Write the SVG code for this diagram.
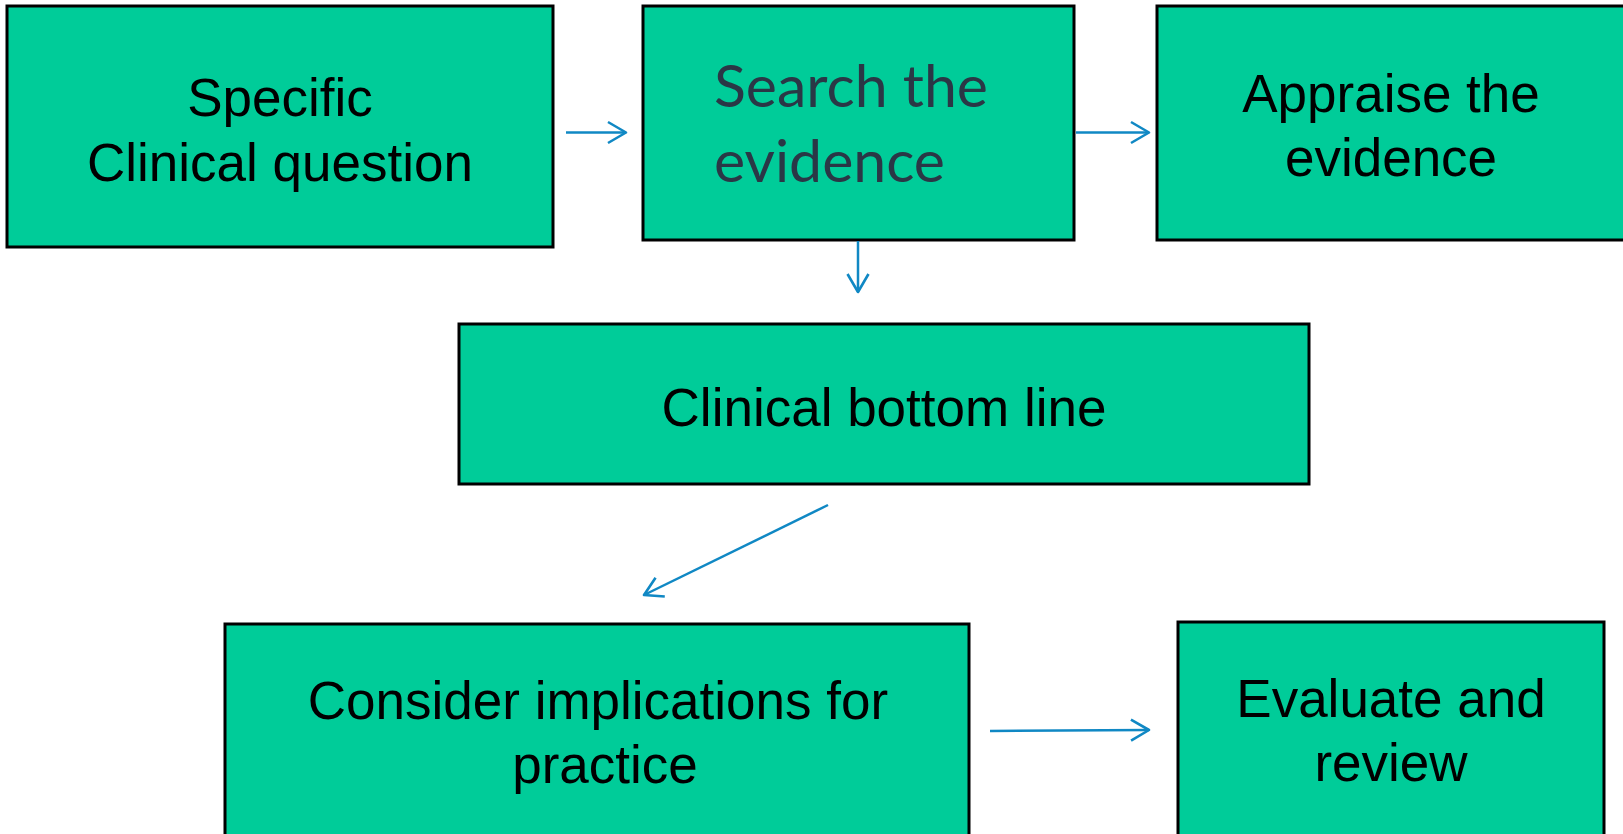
<svg xmlns="http://www.w3.org/2000/svg" width="1623" height="834" viewBox="0 0 1623 834">
  <style>
    .box { fill: #00cc99; stroke: #000000; stroke-width: 3; }
    .lbl { font-family: "Liberation Sans", Arial, sans-serif; font-size: 53px; fill: #000000; text-anchor: middle; }
    .lbl-alt { font-family: Lato, "Open Sans", sans-serif; font-size: 59px; fill: #2a3746; }
    .conn { fill: none; stroke: #1088c4; stroke-width: 2.5; marker-end: url(#chev); }
  </style>
  <defs>
    <!-- open chevron arrowhead, tip at the end of the line -->
    <marker id="chev" viewBox="-2 -2 24 26" refX="19" refY="11" markerWidth="24" markerHeight="26" markerUnits="userSpaceOnUse" orient="auto">
      <path d="M 1 0.5 L 19 11 L 1 21.5" fill="none" stroke="#1088c4" stroke-width="2.6" stroke-linejoin="round"/>
    </marker>
  </defs>

  <rect width="1623" height="834" fill="#ffffff"/>

  <g id="node-question">
    <rect class="box" x="7" y="6" width="546" height="241"/>
    <text class="lbl" x="280" y="116">Specific</text>
    <text class="lbl" x="280" y="181">Clinical question</text>
  </g>

  <g id="node-search">
    <rect class="box" x="643" y="6" width="431" height="234"/>
    <text class="lbl-alt" x="714" y="107">Search the</text>
    <text class="lbl-alt" x="714" y="182">evidence</text>
  </g>

  <g id="node-appraise">
    <rect class="box" x="1157" y="6" width="470" height="234"/>
    <text class="lbl" x="1391" y="112">Appraise the</text>
    <text class="lbl" x="1391" y="176">evidence</text>
  </g>

  <g id="node-bottom-line">
    <rect class="box" x="459" y="324" width="850" height="160"/>
    <text class="lbl" x="884" y="426">Clinical bottom line</text>
  </g>

  <g id="node-implications">
    <rect class="box" x="225" y="624" width="744" height="215"/>
    <text class="lbl" x="598" y="719">Consider implications for</text>
    <text class="lbl" x="605" y="783">practice</text>
  </g>

  <g id="node-evaluate">
    <rect class="box" x="1178" y="622" width="426" height="217"/>
    <text class="lbl" x="1391" y="717">Evaluate and</text>
    <text class="lbl" x="1391" y="781">review</text>
  </g>

  <g id="connectors">
    <line class="conn" x1="566" y1="132.5" x2="626" y2="132.5"/>
    <line class="conn" x1="1076" y1="132.5" x2="1149" y2="132.5"/>
    <line class="conn" x1="858" y1="241" x2="858" y2="292"/>
    <line class="conn" x1="828" y1="505" x2="644" y2="595"/>
    <line class="conn" x1="990" y1="731" x2="1149" y2="730"/>
  </g>
</svg>
